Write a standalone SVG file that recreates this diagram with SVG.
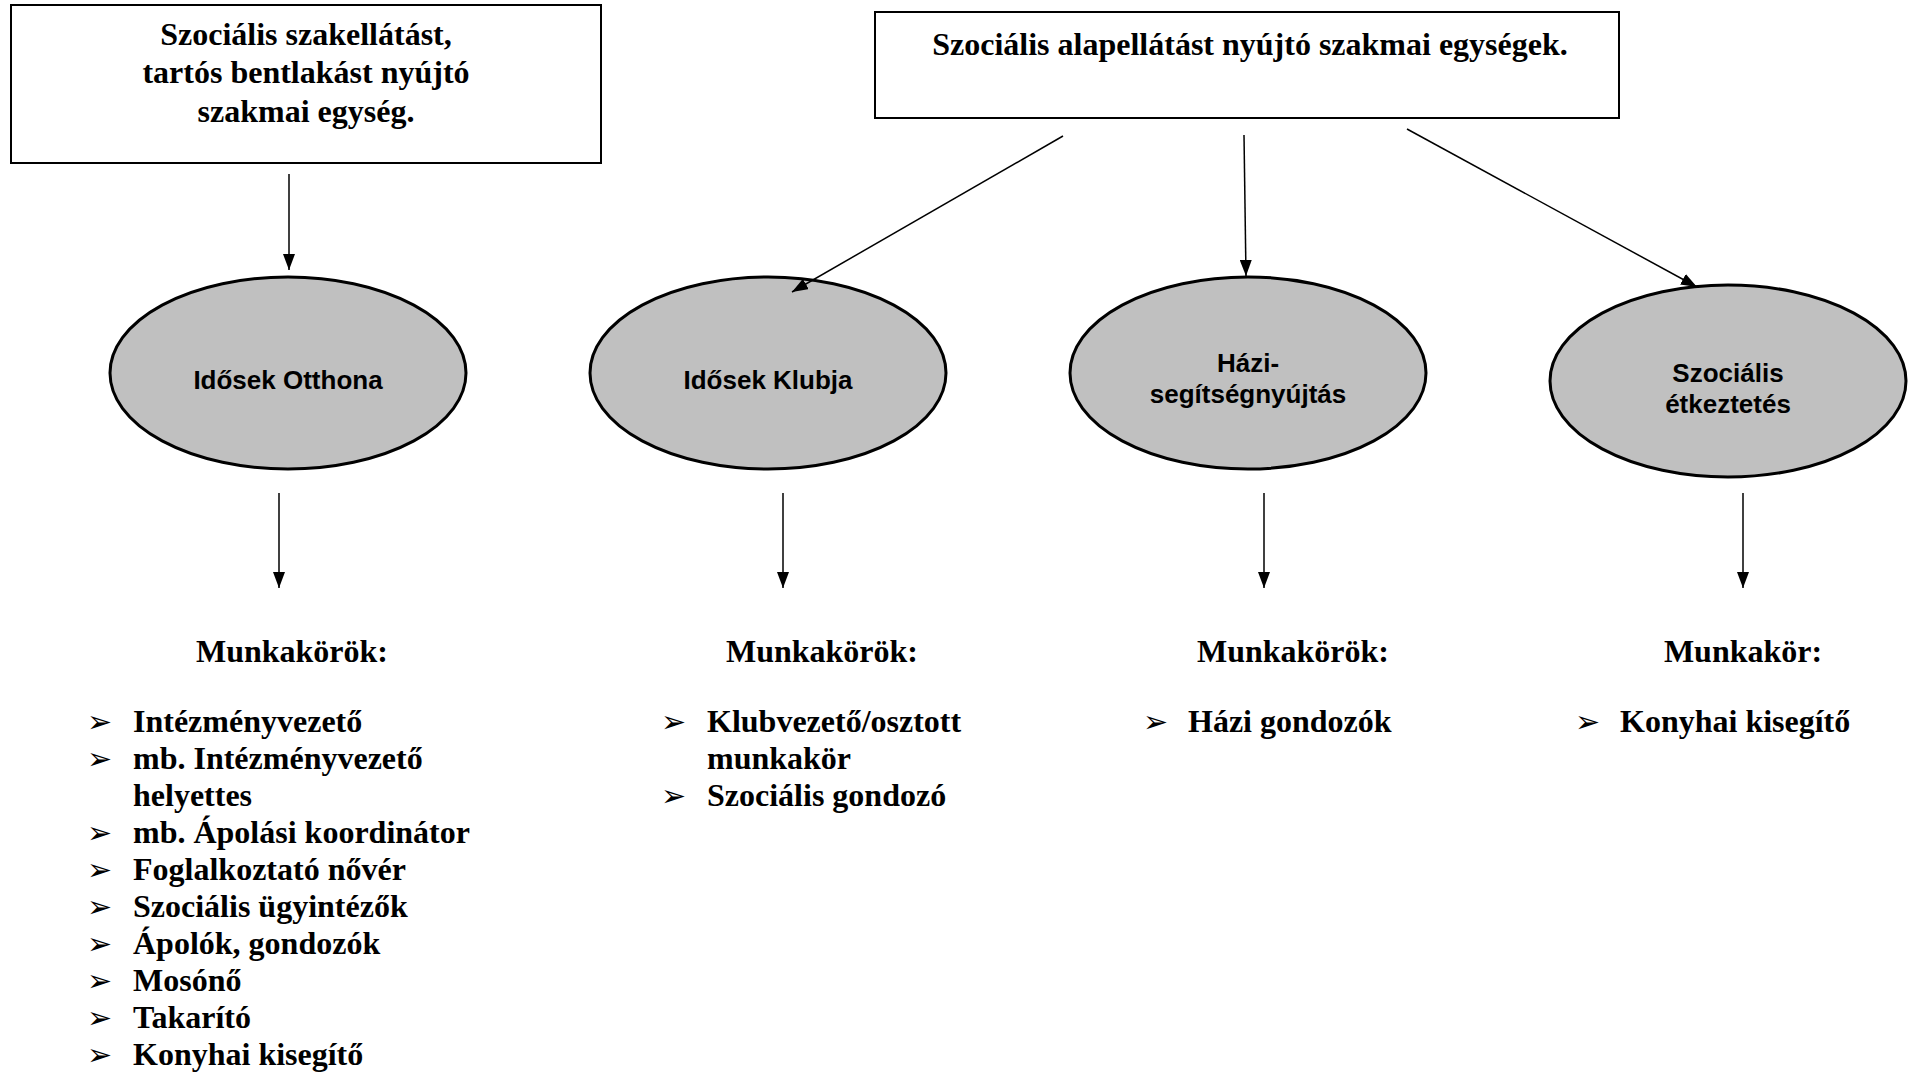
<svg xmlns="http://www.w3.org/2000/svg" width="1912" height="1072" viewBox="0 0 1912 1072">
<style>
.box{fill:#fff;stroke:#000;stroke-width:2}
.ell{fill:#c0c0c0;stroke:#000;stroke-width:3}
.ser{font-family:"Liberation Serif","Times New Roman",serif;font-weight:bold;font-size:32px;fill:#000}
.san{font-family:"Liberation Sans",Arial,sans-serif;font-weight:bold;font-size:26px;fill:#000}
.bul{font-family:"DejaVu Sans",sans-serif;font-size:30px;fill:#000}
.mid{text-anchor:middle}
.con{stroke:#000;stroke-width:1.5;fill:none}
</style>
<defs>
<marker id="ah" markerWidth="16" markerHeight="12" refX="16" refY="6" orient="auto" markerUnits="userSpaceOnUse">
<path d="M0,0 L16,6 L0,12 z" fill="#000"/>
</marker>
</defs>
<rect width="1912" height="1072" fill="#fff"/>
<g id="box-szakellatas">
<rect class="box" x="11" y="5" width="590" height="158"/>
<text class="ser mid" x="306" y="45">Szociális szakellátást,</text>
<text class="ser mid" x="306" y="83">tartós bentlakást nyújtó</text>
<text class="ser mid" x="306" y="122">szakmai egység.</text>
</g>
<g id="box-alapellatas">
<rect class="box" x="875" y="12" width="744" height="106"/>
<text class="ser mid" x="1250" y="55">Szociális alapellátást nyújtó szakmai egységek.</text>
</g>
<g id="node-otthon">
<ellipse class="ell" cx="288" cy="373" rx="178" ry="96"/>
<text class="san mid" x="288" y="389">Idősek Otthona</text>
</g>
<g id="node-klub">
<ellipse class="ell" cx="768" cy="373" rx="178" ry="96"/>
<text class="san mid" x="768" y="389">Idősek Klubja</text>
</g>
<g id="node-hazi">
<ellipse class="ell" cx="1248" cy="373" rx="178" ry="96"/>
<text class="san mid" x="1248" y="372">Házi-</text>
<text class="san mid" x="1248" y="403">segítségnyújtás</text>
</g>
<g id="node-etkeztetes">
<ellipse class="ell" cx="1728" cy="381" rx="178" ry="96"/>
<text class="san mid" x="1728" y="382">Szociális</text>
<text class="san mid" x="1728" y="413">étkeztetés</text>
</g>
<g id="connectors">
<line class="con" x1="289" y1="174" x2="289" y2="270" marker-end="url(#ah)"/>
<line class="con" x1="1063" y1="136" x2="792" y2="292" marker-end="url(#ah)"/>
<line class="con" x1="1244" y1="135" x2="1246" y2="276" marker-end="url(#ah)"/>
<line class="con" x1="1407" y1="129" x2="1697" y2="287" marker-end="url(#ah)"/>
<line class="con" x1="279" y1="493" x2="279" y2="588" marker-end="url(#ah)"/>
<line class="con" x1="783" y1="493" x2="783" y2="588" marker-end="url(#ah)"/>
<line class="con" x1="1264" y1="493" x2="1264" y2="588" marker-end="url(#ah)"/>
<line class="con" x1="1743" y1="493" x2="1743" y2="588" marker-end="url(#ah)"/>
</g>
<g id="list-otthon">
<text class="ser mid" x="292" y="662">Munkakörök:</text>
<text class="bul" x="87" y="732">➢</text><text class="ser" x="133" y="732">Intézményvezető</text>
<text class="bul" x="87" y="769">➢</text><text class="ser" x="133" y="769">mb. Intézményvezető</text>
<text class="ser" x="133" y="806">helyettes</text>
<text class="bul" x="87" y="843">➢</text><text class="ser" x="133" y="843">mb. Ápolási koordinátor</text>
<text class="bul" x="87" y="880">➢</text><text class="ser" x="133" y="880">Foglalkoztató nővér</text>
<text class="bul" x="87" y="917">➢</text><text class="ser" x="133" y="917">Szociális ügyintézők</text>
<text class="bul" x="87" y="954">➢</text><text class="ser" x="133" y="954">Ápolók, gondozók</text>
<text class="bul" x="87" y="991">➢</text><text class="ser" x="133" y="991">Mosónő</text>
<text class="bul" x="87" y="1028">➢</text><text class="ser" x="133" y="1028">Takarító</text>
<text class="bul" x="87" y="1065">➢</text><text class="ser" x="133" y="1065">Konyhai kisegítő</text>
</g>
<g id="list-klub">
<text class="ser mid" x="822" y="662">Munkakörök:</text>
<text class="bul" x="661" y="732">➢</text><text class="ser" x="707" y="732">Klubvezető/osztott</text>
<text class="ser" x="707" y="769">munkakör</text>
<text class="bul" x="661" y="806">➢</text><text class="ser" x="707" y="806">Szociális gondozó</text>
</g>
<g id="list-hazi">
<text class="ser mid" x="1293" y="662">Munkakörök:</text>
<text class="bul" x="1143" y="732">➢</text><text class="ser" x="1188" y="732">Házi gondozók</text>
</g>
<g id="list-etkeztetes">
<text class="ser mid" x="1743" y="662">Munkakör:</text>
<text class="bul" x="1575" y="732">➢</text><text class="ser" x="1620" y="732">Konyhai kisegítő</text>
</g>
</svg>
